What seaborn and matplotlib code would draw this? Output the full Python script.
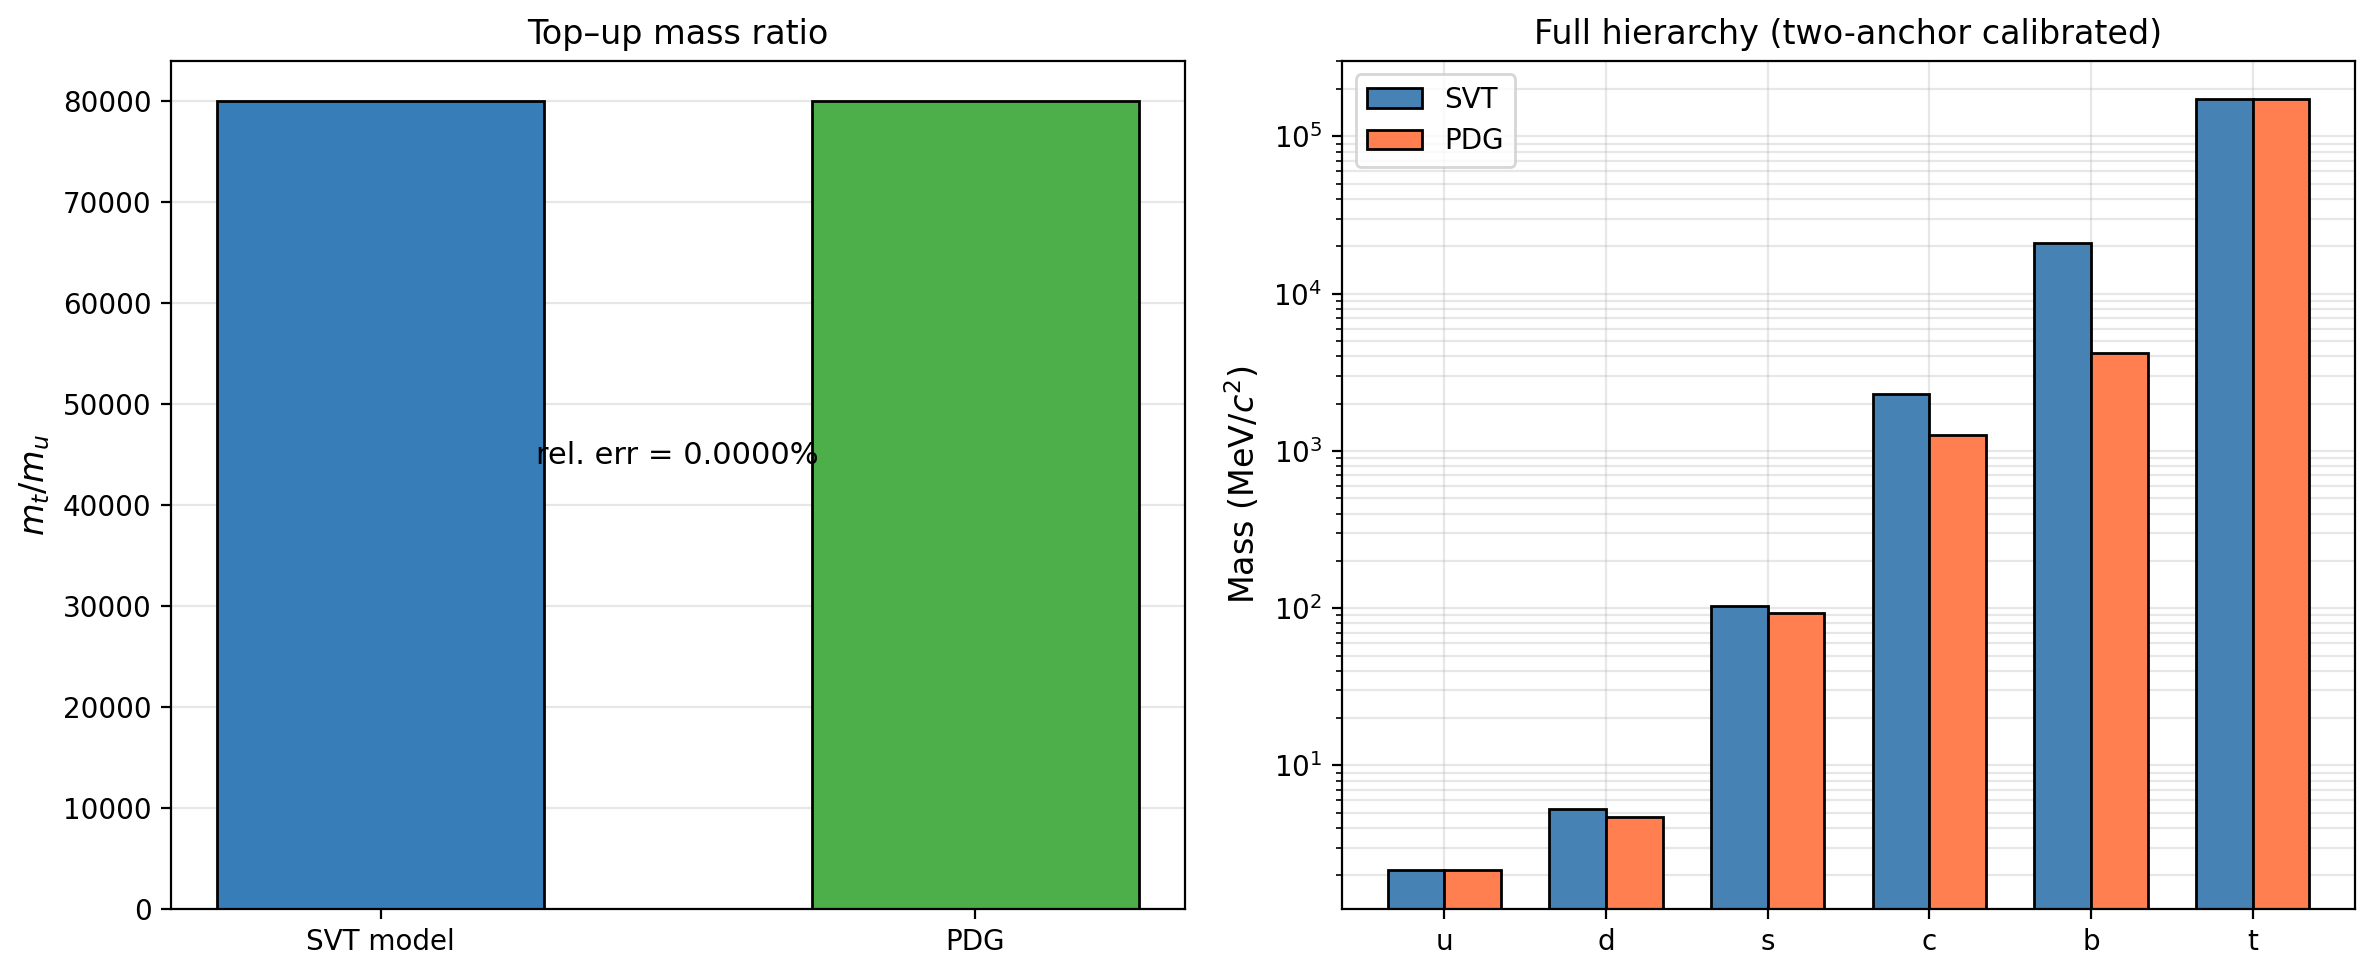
import pandas as pd
import seaborn as sns
import matplotlib.pyplot as plt

# top/up ratio
ratio_labels = ['SVT model', 'PDG']
ratio_values = [79981.5, 79981.5]
ratio_colors = ['#377eb8', '#4daf4a']
rel_err = 0.0

# quark masses in MeV/c^2
quarks = ['u', 'd', 's', 'c', 'b', 't']
svt_masses = [2.16, 5.3, 103.0, 2300.0, 21000.0, 172760.0]
pdg_masses = [2.16, 4.67, 93.4, 1270.0, 4180.0, 172760.0]

ratio_df = pd.DataFrame({'label': ratio_labels, 'ratio': ratio_values})
mass_df = pd.DataFrame({
    'quark': quarks * 2,
    'mass': svt_masses + pdg_masses,
    'source': ['SVT'] * len(quarks) + ['PDG'] * len(quarks),
})

fig, (ax1, ax2) = plt.subplots(1, 2, figsize=(11.875, 4.885))
fig.subplots_adjust(left=0.072, right=0.9917, bottom=0.07, top=0.938, wspace=0.155)

sns.barplot(data=ratio_df, x='label', y='ratio', hue='label', palette=ratio_colors,
            width=0.55, edgecolor='black', linewidth=1, saturation=1, legend=False, ax=ax1)
ax1.set_xlim(-0.3525, 1.3525)
ax1.set_ylabel(r'$m_t/m_u$', fontsize=12)
ax1.set_xlabel('')
ax1.set_title('Top–up mass ratio', fontsize=12)
ax1.text(0.5, ratio_values[0] * 0.55, f'rel. err = {rel_err:.4f}%', ha='center', fontsize=11)
ax1.grid(axis='y', alpha=0.3)
ax1.set_axisbelow(True)

sns.barplot(data=mass_df, x='quark', y='mass', hue='source',
            palette={'SVT': 'steelblue', 'PDG': 'coral'}, width=0.7, gap=0,
            edgecolor='black', linewidth=1, saturation=1, ax=ax2)
ax2.set_yscale('log')
ax2.set_xlim(-0.635, 5.635)
ax2.set_ylabel(r'Mass (MeV/$c^2$)', fontsize=12)
ax2.set_xlabel('')
ax2.set_title('Full hierarchy (two-anchor calibrated)', fontsize=12)
ax2.legend(loc='upper left')
ax2.grid(True, which='both', alpha=0.3)
ax2.set_axisbelow(True)

plt.savefig('out.png', dpi=200)
plt.close()
